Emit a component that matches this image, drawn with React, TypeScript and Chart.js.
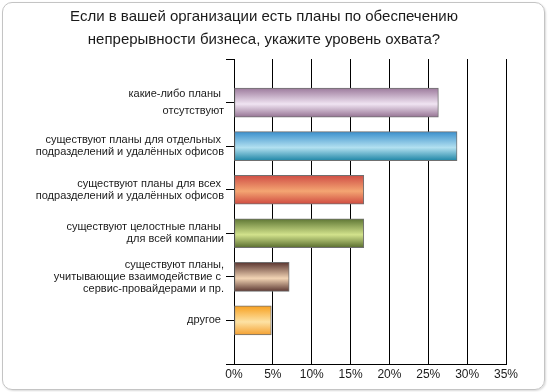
import React, { useEffect, useRef } from "react";
import { Chart, registerables } from "chart.js";

Chart.register(...registerables);

const titleLines = [
  "Если в вашей организации есть планы по обеспечению",
  "непрерывности бизнеса, укажите уровень охвата?",
];

const categories: (string | string[])[] = [
  "",
  ["какие-либо планы ", "отсутствуют"],
  ["существуют планы для отдельных ", "подразделений и удалённых офисов"],
  ["существуют планы для всех ", "подразделений и удалённых офисов"],
  ["существуют целостные планы ", "для всей компании"],
  ["существуют планы,", "учитывающие взаимодействие с ", "сервис-провайдерами и пр."],
  ["другое "],
  "",
];

const values: (number | null)[] = [null, 26.3, 28.7, 16.7, 16.7, 7.1, 4.8, null];

const xTicks = [0, 5, 10, 15, 20, 25, 30, 35];

// [edge top, middle light, edge bottom]
const barColors: string[][] = [
  ["#fff", "#fff", "#fff"],
  ["#9c7a9c", "#f0e4f2", "#957393"],
  ["#3a8fcc", "#b2e0f0", "#1f86a6"],
  ["#cf4d45", "#f4a572", "#cf4a40"],
  ["#5e7634", "#d2e28c", "#586c2e"],
  ["#5a3530", "#f2d4b4", "#5c3832"],
  ["#f7a020", "#fde2a4", "#f4a030"],
  ["#fff", "#fff", "#fff"],
];

const FONT = "'Liberation Sans', Arial, sans-serif";

export default function App() {
  const ref = useRef<HTMLCanvasElement | null>(null);

  useEffect(() => {
    if (!ref.current) return;
    const chart = new Chart(ref.current, {
      type: "bar",
      data: {
        labels: categories,
        datasets: [
          {
            data: values,
            barThickness: 29,
            borderColor: "#707070",
            borderWidth: 1,
            borderSkipped: false,
            backgroundColor: (ctx: any) => {
              const ch = ctx.chart;
              const y = ch.scales && ch.scales.y;
              const cols = barColors[ctx.dataIndex] || ["#888", "#ccc", "#888"];
              if (!y || ctx.type !== "data") return cols[0];
              const c = y.getPixelForValue(ctx.dataIndex);
              if (!isFinite(c)) return cols[0];
              const g = ch.ctx.createLinearGradient(0, c - 14.5, 0, c + 14.5);
              g.addColorStop(0, cols[0]);
              g.addColorStop(0.55, cols[1]);
              g.addColorStop(1, cols[2]);
              return g;
            },
          },
        ],
      },
      options: {
        indexAxis: "y",
        animation: false,
        responsive: false,
        devicePixelRatio: 1,
        layout: { padding: { left: 22, right: 42, top: 0, bottom: 0 } },
        plugins: {
          legend: { display: false },
          tooltip: { enabled: false },
          title: {
            display: true,
            text: titleLines,
            color: "#1a1a1a",
            font: { family: FONT, size: 15, weight: "normal", lineHeight: 1.5 },
            padding: { top: 6, bottom: 8 },
          },
        },
        scales: {
          x: {
            type: "linear",
            min: 0,
            max: 35,
            afterBuildTicks: (s: any) => {
              s.ticks = xTicks.map((v) => ({ value: v }));
            },
            afterFit: (s: any) => {
              s.height = 28;
            },
            ticks: {
              color: "#1a1a1a",
              font: { family: FONT, size: 12 },
              padding: 3,
              callback: (v: any) => v + "%",
            },
            grid: {
              color: "#000",
              lineWidth: 1,
              drawTicks: false,
              tickLength: 0,
            },
            border: { display: true, color: "#000", width: 1 },
          },
          y: {
            type: "category",
            offset: false,
            afterFit: (s: any) => {
              s.width = 212;
            },
            ticks: {
              color: "#1a1a1a",
              padding: 2,
              autoSkip: false,
              font: (ctx: any) => ({
                family: FONT,
                size: 11,
                lineHeight: ctx.index === 1 ? 1.55 : 1.1,
              }),
            },
            grid: {
              offset: false,
              drawOnChartArea: false,
              drawTicks: true,
              tickLength: 8,
              color: "#000",
            },
            border: { display: true, color: "#000", width: 1 },
          },
        },
      },
    });
    return () => chart.destroy();
  }, []);

  return (
    <div
      style={{
        position: "fixed",
        left: 0,
        top: 0,
        width: 548,
        height: 392,
        background: "#fff",
        overflow: "hidden",
      }}
    >
      <div
        style={{
          position: "absolute",
          left: 2,
          top: 2,
          width: 541,
          height: 386,
          border: "1px solid #c4c4c4",
          borderRadius: 10,
          boxShadow: "1px 1px 2px rgba(0,0,0,0.15)",
        }}
      />
      <canvas
        ref={ref}
        width={548}
        height={392}
        style={{ position: "absolute", left: 0, top: 0, width: 548, height: 392 }}
      />
    </div>
  );
}
